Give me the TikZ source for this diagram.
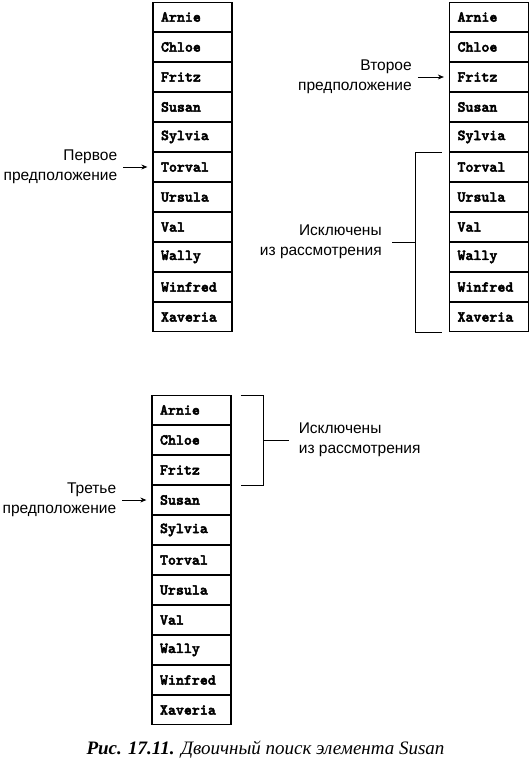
\documentclass[tikz,border=0pt]{standalone}
\usepackage{fontspec}
\setmainfont{Liberation Serif}
\setsansfont{Liberation Sans}
\newfontfamily\cellfont{lmmonolt10-bold}[Extension=.otf, FakeBold=3]
\usetikzlibrary{positioning,arrows.meta}

\begin{document}
\begin{tikzpicture}[x=1pt, y=1pt,
  cell/.style = {draw, line width=1.3pt, minimum width=79pt,
    minimum height=28.7pt, inner xsep=8pt, text width=63pt, align=left,
    font=\cellfont\fontsize{15.2}{15}\selectfont},
  lbl/.style = {inner sep=0pt, font=\sffamily\fontsize{15.5}{19.5}\selectfont},
  arr/.style = {line width=0.8pt, -{Stealth[length=6pt,width=5pt]},
    shorten <=6pt, shorten >=5pt},
  brk/.style = {line width=0.8pt}]
  \useasboundingbox (0,0) rectangle (532,-762);
  \foreach \c/\x/\y in {a/192.5/-2, b/489/-2, c/191.5/-395} {
    \node[cell, anchor=north] (\c1) at (\x,\y) {Arnie};
    \foreach \nm [count=\i from 2, remember=\i as \j (initially 1)] in
      {Chloe,Fritz,Susan,Sylvia,Torval,Ursula,Val,Wally,Winfred,Xaveria}
      \node[cell, below=0pt of \c\j] (\c\i) {\nm};
  }
  \node[lbl, align=right, left=35pt of a6] (p1) {Первое\\предположение};
  \draw[arr] (p1) -- (a6);
  \node[lbl, align=right, left=37pt of b3] (p2) {Второе\\предположение};
  \draw[arr] (p2) -- (b3);
  \node[lbl, align=right, left=35pt of c4] (p3) {Третье\\предположение};
  \draw[arr] (p3) -- (c4);
  \draw[brk] ([xshift=-7pt]b6.north west) -- ([xshift=-33pt]b6.north west)
    -- coordinate (k2) ([xshift=-33pt]b11.south west)
    -- ([xshift=-7pt]b11.south west);
  \node[lbl, align=right, left=34pt of k2] (e2) {Исключены\\из рассмотрения};
  \draw[brk, shorten >=10pt] (k2) -- (e2);
  \draw[brk] ([xshift=9pt]c1.north east) -- ([xshift=32pt]c1.north east)
    -- coordinate (k3) ([xshift=32pt]c3.south east)
    -- ([xshift=9pt]c3.south east);
  \node[lbl, align=left, right=35pt of k3] (e3) {Исключены\\из рассмотрения};
  \draw[brk, shorten >=10pt] (k3) -- (e3);
  \node[font=\fontsize{19}{22}\selectfont] (cap) at (265.5,-750)
    {\textbf{\textit{Рис. 17.11.}} \textit{Двоичный поиск элемента Susan}};
\end{tikzpicture}
\end{document}
